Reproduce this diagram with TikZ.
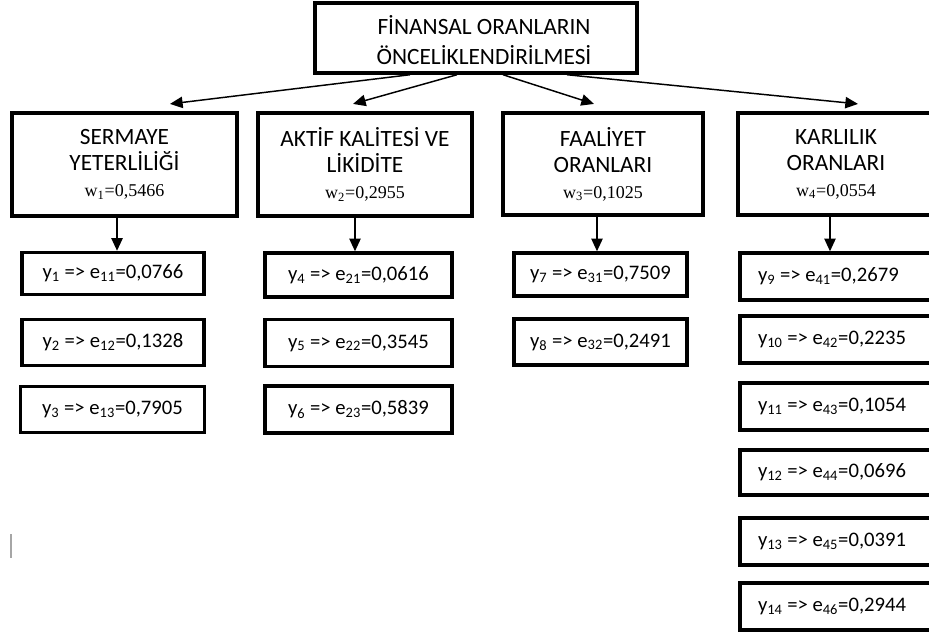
\documentclass[tikz,border=0pt]{standalone}
\usepackage{fontspec}
\setmainfont{Carlito}
\newfontfamily\tms{Liberation Serif}
\usetikzlibrary{arrows.meta,calc}
\newcommand{\wfont}{\tms\fontsize{13.5}{19.5}\selectfont}
\newcommand{\lbox}[1]{\makebox[138pt][l]{#1}}
\begin{document}
\begin{tikzpicture}[x=0.75pt,y=-0.75pt,
 bigbox/.style 2 args={draw, line width=2.6pt, minimum width=#1*0.75pt, minimum height=#2*0.75pt, inner sep=0pt, align=center},
 smallbox/.style 2 args={draw, line width=2.6pt, minimum width=#1*0.75pt, minimum height=#2*0.75pt, inner ysep=0pt, font=\fontsize{15.5}{17}\selectfont},
 leftbox/.style={inner xsep=12pt},
 arr/.style={line width=1.1pt, -{Triangle[length=9.5pt,width=8.5pt]}},
 ttl/.style={font=\fontsize{17.5}{21}\selectfont, align=center, inner sep=0pt},
 hd/.style={font=\fontsize{17.5}{19.5}\selectfont}]
\useasboundingbox (0,0) rectangle (929,632);
\clip (0,0) rectangle (929,632);
\fill[white] (0,0) rectangle (929,632);

% title
\node[bigbox={322}{70}] (title) at (476,38) {};
\node[ttl] (titlet) at (484,40) {FİNANSAL ORANLARIN\\[2pt]ÖNCELİKLENDİRİLMESİ};

% level 2
\node[bigbox={225}{103}, hd] (k1) at (124.5,164.5) {SERMAYE\\YETERLİLİĞİ\\{\wfont w\textsubscript{1}=0,5466}};
\node[bigbox={214}{103}, hd] (k2) at (365,164.5) {AKTİF KALİTESİ VE\\LİKİDİTE\\{\wfont w\textsubscript{2}=0,2955}};
\node[bigbox={200}{102}, hd] (k3) at (603,164) {FAALİYET\\ORANLARI\\{\wfont w\textsubscript{3}=0,1025}};
\node[bigbox={222}{102}] (k4) at (849,164) {};
\node[hd, align=center, inner sep=0pt] (k4t) at (836,164) {KARLILIK\\ORANLARI\\{\wfont w\textsubscript{4}=0,0554}};

% top arrows
\draw[arr] ([xshift=-49.5pt]title.south) -- ([xshift=34.1pt,yshift=5.5pt]k1.north);
\draw[arr] ([xshift=-14.25pt]title.south) -- ([xshift=-9pt,yshift=5.5pt]k2.north);
\draw[arr] ([xshift=20.25pt]title.south) -- ([xshift=-6.75pt,yshift=5.5pt]k3.north);
\draw[arr] ([xshift=68.25pt]title.south) -- ([xshift=6.75pt,yshift=5.5pt]k4.north);

% column 1
\node[smallbox={182}{42}] (y1) at (113,273.5) {y\textsubscript{1} => e\textsubscript{11}=0,0766};
\node[smallbox={182}{46}] (y2) at (113,342.5) {y\textsubscript{2} => e\textsubscript{12}=0,1328};
\node[smallbox={184}{46}] (y3) at (112.5,409.5) {y\textsubscript{3} => e\textsubscript{13}=0,7905};
% column 2
\node[smallbox={187}{44}] (y4) at (358.5,275) {y\textsubscript{4} => e\textsubscript{21}=0,0616};
\node[smallbox={187}{47}] (y5) at (358.5,343) {y\textsubscript{5} => e\textsubscript{22}=0,3545};
\node[smallbox={187}{47}] (y6) at (358.5,409.5) {y\textsubscript{6} => e\textsubscript{23}=0,5839};
% column 3
\node[smallbox={173}{43}] (y7) at (600.5,274.5) {y\textsubscript{7} => e\textsubscript{31}=0,7509};
\node[smallbox={173}{46}] (y8) at (600.5,342) {y\textsubscript{8} => e\textsubscript{32}=0,2491};
% column 4
\node[smallbox={220}{47}, leftbox] (y9) at (850,276.5) {\lbox{y\textsubscript{9} => e\textsubscript{41}=0,2679}};
\node[smallbox={220}{47}, leftbox] (y10) at (850,339.5) {\lbox{y\textsubscript{10} => e\textsubscript{42}=0,2235}};
\node[smallbox={220}{47}, leftbox] (y11) at (850,406.5) {\lbox{y\textsubscript{11} => e\textsubscript{43}=0,1054}};
\node[smallbox={220}{45}, leftbox] (y12) at (850,472.5) {\lbox{y\textsubscript{12} => e\textsubscript{44}=0,0696}};
\node[smallbox={220}{47}, leftbox] (y13) at (850,541.5) {\lbox{y\textsubscript{13} => e\textsubscript{45}=0,0391}};
\node[smallbox={220}{47}, leftbox] (y14) at (850,606.5) {\lbox{y\textsubscript{14} => e\textsubscript{46}=0,2944}};

% vertical arrows
\draw[arr] ([xshift=-5.6pt]k1.south) -- ([xshift=-5.6pt]k1.south |- y1.north);
\draw[arr] ([xshift=-7.5pt]k2.south) -- ([xshift=-7.5pt]k2.south |- y4.north);
\draw[arr] ([xshift=-4.5pt]k3.south) -- ([xshift=-4.5pt]k3.south |- y7.north);
\draw[arr] ([xshift=-14.25pt]k4.south) -- ([xshift=-14.25pt]k4.south |- y9.north);

% stray text cursor
\draw[gray!70, line width=1.1pt] (11,534) -- (11,558);
\end{tikzpicture}
\end{document}
